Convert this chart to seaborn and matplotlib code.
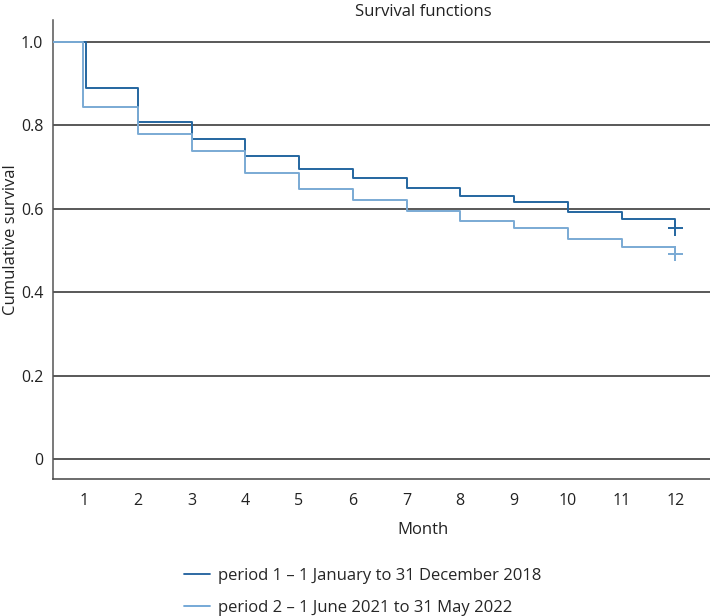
import matplotlib
matplotlib.use("Agg")
import matplotlib.pyplot as plt
from matplotlib.lines import Line2D
import seaborn as sns
import pandas as pd

# ---- data ----
months_p1 = [0, 1.04, 2, 3, 4, 5, 6, 7, 8, 9, 10, 11, 12]
surv_p1 = [1.0, 0.889, 0.807, 0.766, 0.727, 0.694, 0.674, 0.650, 0.630, 0.617, 0.591, 0.576, 0.553]
months_p2 = [0, 0.98, 2, 3, 4, 5, 6, 7, 8, 9, 10, 11, 12]
surv_p2 = [1.0, 0.843, 0.778, 0.738, 0.686, 0.646, 0.621, 0.595, 0.570, 0.553, 0.528, 0.508, 0.492]
censor_month = [12, 12]
censor_surv = [0.553, 0.492]
labels = ["period 1 \u2013 1 January to 31 December 2018",
          "period 2 \u2013 1 June 2021 to 31 May 2022"]
x_ticks = list(range(1, 13))
y_ticks = [0, 0.2, 0.4, 0.6, 0.8, 1.0]
y_ticklabels = ["0", "0.2", "0.4", "0.6", "0.8", "1.0"]
colors = ["#2466a0", "#7aaad4"]
legend_colors = ["#1d5e9c", "#6aa2d4"]

df = pd.concat([
    pd.DataFrame({"Month": months_p1, "Survival": surv_p1, "period": labels[0]}),
    pd.DataFrame({"Month": months_p2, "Survival": surv_p2, "period": labels[1]}),
])
cdf = pd.DataFrame({"Month": censor_month, "Survival": censor_surv, "period": labels})

sns.set_theme(style="white")
plt.rcParams["font.family"] = ["Open Sans", "DejaVu Sans"]

W, H = 710, 616
fig = plt.figure(figsize=(W / 100, H / 100), dpi=100)
left, right, top, bottom = 53, 793, 20, 479
ax = fig.add_axes([left / W, 1 - bottom / H, (right - left) / W, (bottom - top) / H])

for y in y_ticks:
    ax.axhline(y, color="#2b2b2b", lw=1.1, zorder=1)

pal = dict(zip(labels, colors))
sns.lineplot(data=df, x="Month", y="Survival", hue="period", palette=pal,
             drawstyle="steps-post", lw=1.4, legend=False, ax=ax, zorder=3,
             estimator=None, sort=True)
sns.scatterplot(data=cdf, x="Month", y="Survival", hue="period", palette=pal,
                marker="+", s=110, linewidth=1.4, legend=False, ax=ax, zorder=4)

ax.set_xlim(0.423, 14.19)
ax.set_ylim(-0.048, 1.052)
ax.set_xticks(x_ticks)
ax.set_xticklabels([str(t) for t in x_ticks])
ax.set_yticks(y_ticks)
ax.set_yticklabels(y_ticklabels)
ax.tick_params(axis="both", length=0, labelsize=11.5, colors="#222222")
ax.tick_params(axis="x", pad=10)
ax.tick_params(axis="y", pad=7)
for s in ["top", "right"]:
    ax.spines[s].set_visible(False)
ax.spines["left"].set_color("#555555")
ax.spines["bottom"].set_color("#444444")
ax.spines["left"].set_linewidth(1.1)
ax.spines["bottom"].set_linewidth(1.1)

ax.set_xlabel("Month", fontsize=12, color="#222222")
ax.xaxis.set_label_coords((423 - left) / (right - left), -(530 - bottom) / (bottom - top), transform=ax.transAxes)
ax.xaxis.label.set_verticalalignment("center")
ax.set_ylabel("Cumulative survival", fontsize=12, color="#222222")
ax.yaxis.set_label_coords(-(left - 11) / (right - left), (bottom - 240) / (bottom - top), transform=ax.transAxes)
ax.yaxis.label.set_verticalalignment("center")
ax.set_title("Survival functions", fontsize=12, pad=3, color="#222222")

handles = [Line2D([0], [0], color=c, lw=1.3) for c in legend_colors]
fig.legend(handles, labels, loc="upper left", bbox_to_anchor=(177 / W, 1 - 561 / H),
           frameon=False, fontsize=12, handlelength=1.6, handletextpad=0.45,
           labelspacing=0.95, borderaxespad=0)

fig.savefig("out.png", dpi=100)
